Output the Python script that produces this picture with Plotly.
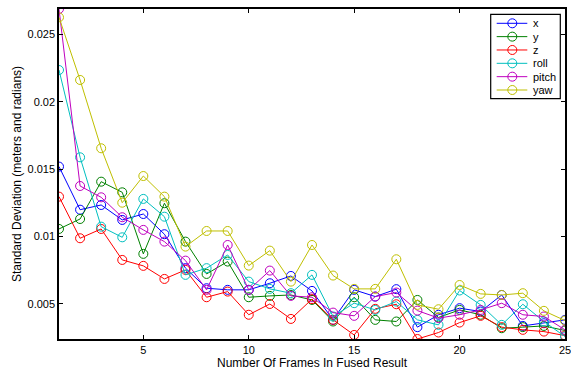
import plotly.graph_objects as go

frames = list(range(1, 26))
x_vals = [0.0152, 0.0120, 0.01235, 0.01124, 0.01168, 0.01018, 0.00766, 0.00617, 0.00605, 0.00605,
          0.00654, 0.00708, 0.00597, 0.00382, 0.00605, 0.00555, 0.0061, 0.00328, 0.0042, 0.00469,
          0.00444, 0.00567, 0.00337, 0.00357, 0.00382]
y_vals = [0.01057, 0.01131, 0.01408, 0.01329, 0.00872, 0.01248, 0.00963, 0.00723, 0.00815, 0.0055,
          0.0056, 0.00567, 0.0053, 0.0037, 0.0055, 0.00382, 0.0037, 0.0053, 0.0040, 0.00456,
          0.0042, 0.0032, 0.00328, 0.00337, 0.00303]
z_vals = [0.01297, 0.00988, 0.01057, 0.00827, 0.00783, 0.00686, 0.00753, 0.0055, 0.00592, 0.0042,
          0.0050, 0.00389, 0.00536, 0.00382, 0.0027, 0.00464, 0.00498, 0.0024, 0.00288, 0.00362,
          0.00412, 0.00328, 0.00308, 0.00295, 0.00265]
roll_vals = [0.02237, 0.01589, 0.01074, 0.00995, 0.0128, 0.01148, 0.00716, 0.00766, 0.00864, 0.00666,
             0.00612, 0.0058, 0.00716, 0.00407, 0.00506, 0.00456, 0.00518, 0.00382, 0.00345, 0.0060,
             0.00493, 0.00345, 0.00498, 0.0037, 0.00258]
pitch_vals = [0.0269, 0.01376, 0.01292, 0.01144, 0.0105, 0.00963, 0.00822, 0.00605, 0.00938, 0.00605,
              0.00748, 0.0056, 0.0055, 0.00436, 0.00412, 0.00555, 0.00585, 0.00451, 0.00395, 0.0042,
              0.00456, 0.00506, 0.0042, 0.00407, 0.00308]
yaw_vals = [0.02628, 0.02163, 0.01656, 0.01252, 0.0145, 0.01297, 0.00926, 0.01042, 0.01042, 0.00785,
            0.00896, 0.00666, 0.00938, 0.00711, 0.00612, 0.00612, 0.00832, 0.00493, 0.00461, 0.00641,
            0.00575, 0.00567, 0.0058, 0.00449, 0.00377]

series_names = ["x", "y", "z", "roll", "pitch", "yaw"]
series_data = [x_vals, y_vals, z_vals, roll_vals, pitch_vals, yaw_vals]
colors = ["rgb(0,0,255)", "rgb(0,128,0)", "rgb(255,0,0)", "rgb(0,191,191)", "rgb(191,0,191)", "rgb(191,191,0)"]

y_ticks = [0.005, 0.01, 0.015, 0.02, 0.025]
y_ticktext = ["0.005", "0.01", "0.015", "0.02", "0.025"]
x_ticks = [5, 10, 15, 20, 25]

font_family = "Liberation Sans, Arial, Helvetica, sans-serif"

# layout geometry (pixels)
W, H = 571, 370
ML, MR, MT, MB = 59, 6, 9, 31
PW, PH = W - ML - MR, H - MT - MB


def px_x(px):
    return (px - ML) / PW


def px_y(py):
    return (H - MB - py) / PH


fig = go.Figure()
for name, vals, col in zip(series_names, series_data, colors):
    fig.add_trace(go.Scatter(
        x=frames, y=vals, name=name, mode="lines+markers",
        line=dict(color=col, width=1),
        marker=dict(symbol="circle-open", size=9, color=col, line=dict(width=1, color=col)),
        showlegend=False,
    ))

# custom MATLAB-style legend box
shapes = []
annotations = []
box_l, box_r, box_t, box_b = 490.7, 560.3, 14.3, 98.7
shapes.append(dict(type="rect", xref="paper", yref="paper",
                   x0=px_x(box_l), x1=px_x(box_r), y0=px_y(box_b), y1=px_y(box_t),
                   line=dict(color="black", width=1.2), fillcolor="white", layer="above"))
row0, row_step = 23.3, 13.34
for i, (name, col) in enumerate(zip(series_names, colors)):
    yy = px_y(row0 + i * row_step)
    shapes.append(dict(type="line", xref="paper", yref="paper",
                       x0=px_x(496.7), x1=px_x(527.3), y0=yy, y1=yy,
                       line=dict(color=col, width=1), layer="above"))
    shapes.append(dict(type="circle", xref="paper", yref="paper",
                       xsizemode="pixel", ysizemode="pixel",
                       xanchor=px_x(512.3), yanchor=yy,
                       x0=-4.5, x1=4.5, y0=-4.5, y1=4.5,
                       line=dict(color=col, width=1), fillcolor="rgba(0,0,0,0)", layer="above"))
    annotations.append(dict(xref="paper", yref="paper", x=px_x(530.5), y=yy,
                            xanchor="left", yanchor="middle", text=name, showarrow=False,
                            font=dict(size=11, color="black", family=font_family)))

fig.update_layout(
    width=W, height=H,
    margin=dict(l=ML, r=MR, t=MT, b=MB, autoexpand=False),
    paper_bgcolor="white", plot_bgcolor="white",
    font=dict(family=font_family, size=11, color="black"),
    showlegend=False,
    shapes=shapes, annotations=annotations,
)
fig.update_xaxes(
    range=[1, 25], tickvals=x_ticks, ticks="inside", ticklen=4, tickcolor="black",
    showline=True, linecolor="black", linewidth=1.5, mirror="ticks",
    showgrid=False, zeroline=False, automargin=False, ticklabeloverflow="allow",
    title=dict(text="Number Of Frames In Fused Result", standoff=0, font=dict(size=12)),
)
fig.update_yaxes(
    range=[0.0024, 0.0269], tickvals=y_ticks, ticktext=y_ticktext, ticks="inside", ticklen=4,
    tickcolor="black", showline=True, linecolor="black", linewidth=1.5, mirror="ticks",
    showgrid=False, zeroline=False, automargin=False, ticklabeloverflow="allow",
    title=dict(text="Standard Deviation (meters and radians)", standoff=3, font=dict(size=12)),
)

fig.write_html("out.html", config={"displayModeBar": False},
               post_script="document.body.style.margin='0';")
